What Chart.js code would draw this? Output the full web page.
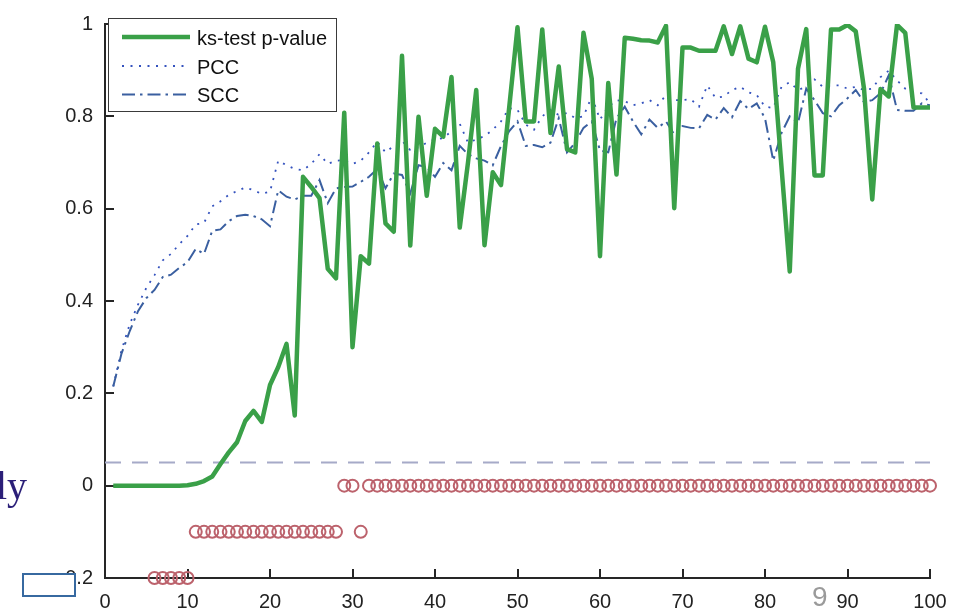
<!DOCTYPE html>
<html>
<head>
<meta charset="utf-8">
<script src="https://cdn.jsdelivr.net/npm/chart.js@4/dist/chart.umd.min.js"></script>
<style>
  html, body { margin: 0; padding: 0; background: #fff; }
  #wrap { position: relative; width: 966px; height: 613px; overflow: hidden; }
  #c { position: absolute; left: 0; top: 0; }
  .ov { position: absolute; white-space: nowrap; line-height: 1; }
  #ly { left: -4px; top: 466px; font-family: "Liberation Serif", serif; font-size: 40px; color: #2b1f78; }
  #box { position: absolute; left: 22px; top: 573px; width: 54px; height: 24px; box-sizing: border-box; border: 2px solid rgb(55,105,160); background: #fff; }
  #nine { left: 812px; top: 583px; font-family: "Liberation Sans", Arial, sans-serif; font-size: 28px; color: #9a9a9a; }
</style>
</head>
<body>
<div id="wrap">
  <canvas id="c" width="966" height="613"></canvas>
  <div class="ov" id="ly">ly</div>
  <div id="box"></div>
  <div class="ov" id="nine">9</div>
</div>
<script>
// ---- data ----
const xValues = [1,2,3,4,5,6,7,8,9,10,11,12,13,14,15,16,17,18,19,20,21,22,23,24,25,26,27,28,29,30,31,32,33,34,35,36,37,38,39,40,41,42,43,44,45,46,47,48,49,50,51,52,53,54,55,56,57,58,59,60,61,62,63,64,65,66,67,68,69,70,71,72,73,74,75,76,77,78,79,80,81,82,83,84,85,86,87,88,89,90,91,92,93,94,95,96,97,98,99,100];

const ksPValue = [
  0,0,0,0,0,0,0,0,0,0.001,
  0.004,0.01,0.02,0.047,0.072,0.094,0.14,0.162,0.138,0.218,
  0.257,0.307,0.152,0.669,0.647,0.623,0.47,0.449,0.808,0.30,
  0.497,0.481,0.741,0.568,0.55,0.931,0.52,0.799,0.628,0.773,
  0.756,0.885,0.559,0.70,0.857,0.521,0.679,0.651,0.82,0.993,
  0.789,0.789,0.988,0.764,0.908,0.729,0.722,0.981,0.881,0.497,
  0.872,0.674,0.970,0.968,0.965,0.964,0.960,0.996,0.601,0.949,
  0.949,0.942,0.942,0.942,0.995,0.935,0.995,0.925,0.917,0.994,
  0.917,0.69,0.464,0.903,0.989,0.672,0.672,0.988,0.988,0.998,
  0.984,0.86,0.620,0.859,0.843,0.998,0.981,0.819,0.819,0.819
];

const pcc = [
  0.215,0.293,0.35,0.392,0.428,0.456,0.488,0.502,0.523,0.541,
  0.566,0.569,0.605,0.616,0.63,0.638,0.646,0.64,0.632,0.637,
  0.704,0.694,0.686,0.683,0.697,0.718,0.697,0.704,0.705,0.697,
  0.704,0.722,0.745,0.722,0.736,0.747,0.727,0.733,0.743,0.75,
  0.753,0.768,0.784,0.743,0.75,0.757,0.771,0.789,0.818,0.814,
  0.782,0.771,0.80,0.814,0.803,0.807,0.796,0.80,0.843,0.793,
  0.821,0.835,0.833,0.824,0.828,0.835,0.824,0.846,0.835,0.835,
  0.837,0.821,0.867,0.84,0.843,0.857,0.864,0.852,0.846,0.821,
  0.818,0.864,0.874,0.857,0.864,0.88,0.864,0.867,0.867,0.86,
  0.864,0.857,0.86,0.885,0.899,0.878,0.86,0.852,0.85,0.828
];

const scc = [
  0.215,0.286,0.335,0.378,0.406,0.424,0.452,0.457,0.472,0.484,
  0.513,0.502,0.552,0.555,0.573,0.584,0.587,0.584,0.577,0.562,
  0.64,0.626,0.62,0.628,0.628,0.662,0.612,0.644,0.647,0.648,
  0.658,0.669,0.686,0.644,0.676,0.673,0.633,0.694,0.69,0.669,
  0.699,0.683,0.736,0.718,0.709,0.704,0.694,0.736,0.768,0.789,
  0.736,0.738,0.733,0.743,0.796,0.722,0.743,0.775,0.789,0.726,
  0.722,0.796,0.821,0.789,0.761,0.793,0.775,0.789,0.761,0.779,
  0.775,0.774,0.803,0.793,0.818,0.798,0.833,0.816,0.828,0.796,
  0.704,0.764,0.80,0.786,0.86,0.835,0.807,0.80,0.824,0.839,
  0.857,0.831,0.835,0.85,0.889,0.814,0.812,0.812,0.828,0.824
];

const markerLevel = [
  null,null,null,null,null,-0.2,-0.2,-0.2,-0.2,-0.2,
  -0.1,-0.1,-0.1,-0.1,-0.1,-0.1,-0.1,-0.1,-0.1,-0.1,
  -0.1,-0.1,-0.1,-0.1,-0.1,-0.1,-0.1,-0.1,0,0,
  -0.1,0,0,0,0,0,0,0,0,0,
  0,0,0,0,0,0,0,0,0,0,
  0,0,0,0,0,0,0,0,0,0,
  0,0,0,0,0,0,0,0,0,0,
  0,0,0,0,0,0,0,0,0,0,
  0,0,0,0,0,0,0,0,0,0,
  0,0,0,0,0,0,0,0,0,0
];

const thresholdX = [0, 100];
const thresholdY = [0.05, 0.05];

const seriesNames = ['ks-test p-value', 'PCC', 'SCC'];
const xTickStep = 10;
const yTickStep = 0.2;

// ---- build ----
const pts = (xs, ys) => xs.map((x, i) => ({x: x, y: ys[i]}));
const FONT = '"Liberation Sans", Arial, sans-serif';
const AXIS = '#262626';

const innerTicks = {
  id: 'innerTicks',
  beforeDatasetsDraw(chart) {
    const {ctx, chartArea: a, scales: {x, y}} = chart;
    ctx.save();
    ctx.strokeStyle = AXIS;
    ctx.lineWidth = 2;
    ctx.beginPath();
    x.ticks.forEach(t => {
      const px = Math.round(x.getPixelForValue(t.value));
      ctx.moveTo(px, a.bottom); ctx.lineTo(px, a.bottom - 9);
    });
    y.ticks.forEach(t => {
      const py = Math.round(y.getPixelForValue(t.value));
      ctx.moveTo(a.left, py); ctx.lineTo(a.left + 9, py);
    });
    ctx.stroke();
    ctx.restore();
  }
};

const boxLegend = {
  id: 'boxLegend',
  afterDraw(chart) {
    const ctx = chart.ctx;
    const L = 108.5, T = 18.5, R = 336.5, B = 111.5;
    ctx.save();
    ctx.fillStyle = '#fff';
    ctx.fillRect(L, T, R - L, B - T);
    ctx.strokeStyle = '#3a3a3a';
    ctx.lineWidth = 1;
    ctx.setLineDash([]);
    ctx.strokeRect(L, T, R - L, B - T);
    const rows = [37, 66, 94.5];
    const bases = [45, 73.5, 101.5];
    [0, 1, 2].forEach(i => {
      const ds = chart.data.datasets[i];
      ctx.beginPath();
      ctx.strokeStyle = ds.borderColor;
      ctx.lineWidth = ds.borderWidth;
      ctx.setLineDash(ds.borderDash || []);
      ctx.lineCap = 'butt';
      ctx.moveTo(122, rows[i]); ctx.lineTo(190, rows[i]);
      ctx.stroke();
      ctx.setLineDash([]);
      ctx.fillStyle = '#111';
      ctx.font = '20px ' + FONT;
      ctx.textBaseline = 'alphabetic';
      ctx.textAlign = 'left';
      ctx.fillText(ds.label, 197, bases[i]);
    });
    ctx.restore();
  }
};

new Chart(document.getElementById('c'), {
  type: 'line',
  data: {
    datasets: [
      {
        label: seriesNames[0],
        data: pts(xValues, ksPValue),
        borderColor: 'rgb(58,160,72)',
        borderWidth: 4.5,
        pointRadius: 0,
        tension: 0,
        borderJoinStyle: 'round',
        order: 1
      },
      {
        label: seriesNames[1],
        data: pts(xValues, pcc),
        borderColor: 'rgb(52,82,190)',
        borderWidth: 1.8,
        borderDash: [2, 6.5],
        pointRadius: 0,
        tension: 0,
        order: 3
      },
      {
        label: seriesNames[2],
        data: pts(xValues, scc),
        borderColor: 'rgb(58,95,160)',
        borderWidth: 2,
        borderDash: [13, 5, 2.5, 5],
        pointRadius: 0,
        tension: 0,
        order: 2
      },
      {
        label: 'threshold',
        data: pts(thresholdX, thresholdY),
        borderColor: 'rgb(166,170,200)',
        borderWidth: 2,
        borderDash: [16, 11],
        pointRadius: 0,
        order: 5
      },
      {
        label: 'markers',
        data: pts(xValues, markerLevel),
        showLine: false,
        pointStyle: 'circle',
        pointRadius: 6,
        pointBorderWidth: 2,
        pointBorderColor: 'rgb(188,98,108)',
        pointBackgroundColor: 'rgba(0,0,0,0)',
        spanGaps: false,
        clip: false,
        order: 4
      }
    ]
  },
  options: {
    responsive: false,
    animation: false,
    events: [],
    layout: { padding: { top: 15, right: 36, left: 0, bottom: 0 } },
    plugins: { legend: { display: false }, tooltip: { enabled: false } },
    scales: {
      x: {
        type: 'linear',
        min: 0, max: 100,
        grid: { display: false, drawTicks: false },
        border: { display: true, color: AXIS, width: 2 },
        ticks: { stepSize: xTickStep, color: '#222', font: { family: FONT, size: 20 }, padding: 12, maxRotation: 0, autoSkip: false },
        afterFit(s) { s.height = 35; }
      },
      y: {
        type: 'linear',
        min: -0.2, max: 1,
        grid: { display: false, drawTicks: false },
        border: { display: true, color: AXIS, width: 2 },
        ticks: {
          stepSize: yTickStep, color: '#222', font: { family: FONT, size: 20 }, padding: 12,
          callback: v => String(Number(v.toFixed(1)))
        },
        afterFit(s) { s.width = 105; }
      }
    }
  },
  plugins: [innerTicks, boxLegend]
});
</script>
</body>
</html>
